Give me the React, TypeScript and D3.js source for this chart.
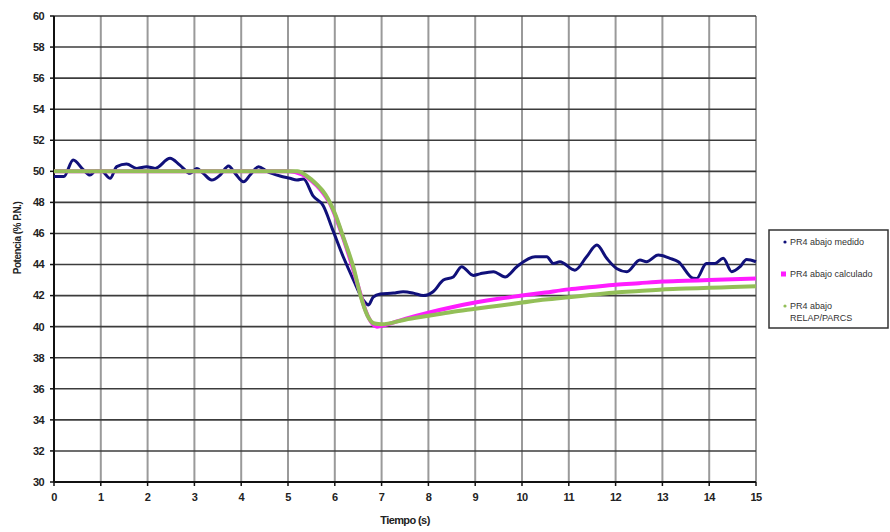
import React from "react";
import * as d3 from "d3";

// Medido (PR4 abajo) — tiempo (s) y potencia (% P.N.)
const measuredTime = [
  0, 0.21, 0.41, 0.63, 0.77, 0.88, 1.02, 1.2, 1.34, 1.55, 1.77, 1.98, 2.16, 2.48, 2.69, 2.91,
  3.05, 3.19, 3.37, 3.55, 3.73, 3.87, 4.05, 4.19, 4.37, 4.55, 4.83, 5.04, 5.19, 5.33, 5.54,
  5.75, 5.96, 6.18, 6.4, 6.61, 6.72, 6.82, 6.97, 7.25, 7.46, 7.68, 7.89, 8.1, 8.32, 8.53, 8.71,
  8.96, 9.1, 9.39, 9.64, 9.89, 10.28, 10.53, 10.67, 10.81, 11.13, 11.38, 11.6, 11.81, 12.02,
  12.24, 12.52, 12.66, 12.91, 13.16, 13.34, 13.66, 13.73, 13.94, 14.12, 14.3, 14.48, 14.66,
  14.8, 15,
];
const measuredValue = [
  49.66, 49.66, 50.73, 50.09, 49.76, 50.0, 50.0, 49.55, 50.3, 50.47, 50.19, 50.3, 50.19, 50.84,
  50.4, 49.87, 50.19, 49.87, 49.44, 49.76, 50.34, 49.87, 49.33, 49.76, 50.3, 50.0, 49.7, 49.55,
  49.44, 49.5, 48.4, 47.8, 46.2, 44.5, 43.0, 41.7, 41.4, 41.9, 42.1, 42.16, 42.25, 42.16, 42.0,
  42.25, 43.0, 43.2, 43.86, 43.3, 43.4, 43.54, 43.2, 43.86, 44.5, 44.5, 44.07, 44.18, 43.64,
  44.5, 45.25, 44.4, 43.75, 43.54, 44.29, 44.18, 44.61, 44.4, 44.18, 43.11, 43.1, 44.07,
  44.07, 44.4, 43.54, 43.86, 44.33, 44.18,
];

// Calculado
const calcTime = [
  0, 5.0, 5.3, 5.5, 5.7, 5.9, 6.1, 6.3, 6.5, 6.65, 6.8, 6.9, 7.0, 7.5, 8, 8.5, 9, 9.5, 10, 10.5,
  11, 11.5, 12, 12.5, 13, 13.5, 14, 14.5, 15,
];
const calcValue = [
  50, 50, 49.8, 49.4, 48.8, 47.9, 46.4, 44.6, 42.6, 41.1, 40.2, 40.0, 40.05, 40.5, 40.9, 41.25,
  41.55, 41.8, 42.0, 42.2, 42.4, 42.55, 42.7, 42.8, 42.9, 42.95, 43.0, 43.05, 43.1,
];

// RELAP/PARCS
const relapTime = [
  0, 5.2, 5.4, 5.6, 5.8, 6.0, 6.2, 6.4, 6.55, 6.7, 6.85, 7.0, 7.5, 8, 8.5, 9, 9.5, 10, 10.5, 11,
  11.5, 12, 12.5, 13, 13.5, 14, 14.5, 15,
];
const relapValue = [
  50, 50, 49.7, 49.2, 48.5, 47.3, 45.6, 43.8, 42.0, 40.7, 40.2, 40.15, 40.45, 40.7, 40.95, 41.15,
  41.35, 41.55, 41.75, 41.9, 42.05, 42.2, 42.3, 42.4, 42.45, 42.5, 42.55, 42.6,
];

const xTicks = d3.range(0, 16, 1);
const yTicks = d3.range(30, 61, 2);

const legendLabels = [["PR4 abajo medido"], ["PR4 abajo calculado"], ["PR4 abajo", "RELAP/PARCS"]];

const W = 890;
const H = 532;
const left = 54;
const right = 756;
const top = 16;
const bottom = 482;

const font = "'Liberation Sans', Arial, sans-serif";

export default function App() {
  const x = d3.scaleLinear().domain([0, 15]).range([left, right]);
  const y = d3.scaleLinear().domain([30, 60]).range([bottom, top]);

  const mk = (ts: number[], vs: number[]) =>
    d3
      .line<number>()
      .x((_, i) => x(ts[i]))
      .y((v) => y(v))
      .curve(d3.curveMonotoneX)(vs) as string;

  const colors = ["#10107a", "#ff1cff", "#93bf58"];
  const legendY = [242, 274, 306];

  return (
    <div style={{ position: "absolute", left: 0, top: 0 }}>
      <svg width={W} height={H} style={{ display: "block", background: "#fff" }}>
        {/* vertical grid */}
        {xTicks.map((t) => (
          <line key={"vx" + t} x1={x(t)} x2={x(t)} y1={top} y2={bottom} stroke="#9a9a9a" strokeWidth={2} />
        ))}
        {/* horizontal grid */}
        {yTicks.map((t) => (
          <line key={"hy" + t} x1={left} x2={right} y1={y(t)} y2={y(t)} stroke="#3c3c3c" strokeWidth={1.6} />
        ))}
        {/* axes */}
        <line x1={left} x2={left} y1={top} y2={bottom} stroke="#111" strokeWidth={2} />
        <line x1={left} x2={right} y1={bottom} y2={bottom} stroke="#111" strokeWidth={2} />
        {yTicks.map((t) => (
          <line key={"ty" + t} x1={left - 4} x2={left} y1={y(t)} y2={y(t)} stroke="#111" strokeWidth={1.5} />
        ))}
        {xTicks.map((t) => (
          <line key={"tx" + t} x1={x(t)} x2={x(t)} y1={bottom} y2={bottom + 4} stroke="#111" strokeWidth={1.5} />
        ))}
        {/* tick labels */}
        {yTicks.map((t) => (
          <text
            key={"ly" + t}
            x={left - 10}
            y={y(t)}
            dy="0.35em"
            textAnchor="end"
            fontFamily={font}
            fontWeight="bold"
            fontSize={11}
            letterSpacing={-0.6}
            fill="#222"
          >
            {t}
          </text>
        ))}
        {xTicks.map((t) => (
          <text
            key={"lx" + t}
            x={x(t)}
            y={bottom + 19}
            textAnchor="middle"
            fontFamily={font}
            fontWeight="bold"
            fontSize={11}
            letterSpacing={-0.6}
            fill="#222"
          >
            {t}
          </text>
        ))}
        {/* axis titles */}
        <text
          transform={`translate(21,238) rotate(-90)`}
          textAnchor="middle"
          fontFamily={font}
          fontWeight="bold"
          fontSize={10}
          letterSpacing={-0.5}
          fill="#222"
        >
          Potencia (% P.N.)
        </text>
        <text
          x={405}
          y={524}
          textAnchor="middle"
          fontFamily={font}
          fontWeight="bold"
          fontSize={11}
          letterSpacing={-0.6}
          fill="#222"
        >
          Tiempo (s)
        </text>
        {/* series */}
        <path d={mk(measuredTime, measuredValue)} fill="none" stroke={colors[0]} strokeWidth={3} strokeLinejoin="round" />
        <path d={mk(calcTime, calcValue)} fill="none" stroke={colors[1]} strokeWidth={4} strokeLinejoin="round" />
        <path d={mk(relapTime, relapValue)} fill="none" stroke={colors[2]} strokeWidth={4} strokeLinejoin="round" />
        {/* legend */}
        <rect x={769} y={230} width={119} height={98} fill="#fff" stroke="#333" strokeWidth={1.5} />
        <circle cx={785} cy={legendY[0]} r={1.6} fill={colors[0]} />
        <rect x={781} y={legendY[1] - 2.5} width={5} height={5} fill={colors[1]} />
        <circle cx={785} cy={legendY[2]} r={1.6} fill={colors[2]} />
        {legendLabels.map((lines, i) =>
          lines.map((s, j) => (
            <text
              key={"lg" + i + j}
              x={790}
              y={legendY[i] + j * 12}
              dy="0.35em"
              fontFamily={font}
              fontSize={9}
              fill="#333"
            >
              {s}
            </text>
          ))
        )}
      </svg>
    </div>
  );
}
